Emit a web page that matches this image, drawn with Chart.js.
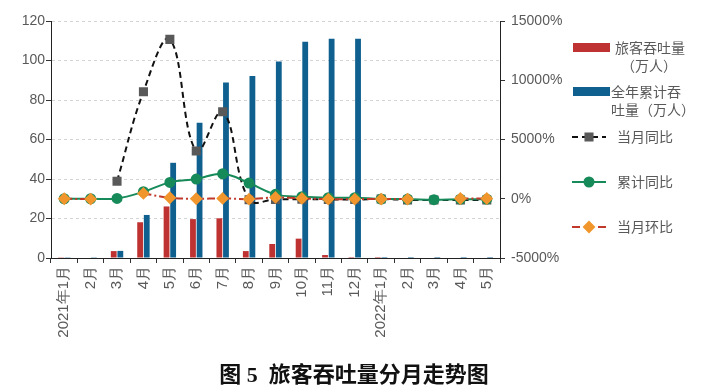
<!DOCTYPE html>
<html lang="zh">
<head>
<meta charset="utf-8">
<title>旅客吞吐量分月走势图</title>
<script src="https://cdn.jsdelivr.net/npm/chart.js"></script>
<style>
    html, body { margin: 0; padding: 0; background: #ffffff; }
    #wrap { width: 708px; height: 392px; }
</style>
</head>
<body>
<div id="wrap"><canvas id="chart" width="708" height="392"></canvas></div>
<script>
// 数据
const months = ['2021年1月', '2月', '3月', '4月', '5月', '6月', '7月', '8月', '9月', '10月', '11月', '12月',
                '2022年1月', '2月', '3月', '4月', '5月'];
const passengers = [0.4, 0, 3.5, 18.1, 26.1, 19.7, 20.1, 3.5, 7.1, 9.8, 1.5, 0.5, 0.5, 0, 0, 0, 0];      // 万人
const cumulative = [0.4, 0.4, 3.6, 21.8, 48.2, 68.5, 88.8, 92.2, 99.5, 109.5, 111, 111, 0.5, 0.5, 0.5, 0.5, 0.5];
const yoy = [null, null, 1470, 9030, 13450, 4025, 7340, -80, -50, -40, -60, -70, -20, -100, -100, -100, -100]; // %
const cumYoy = [0, 0, 30, 590, 1380, 1660, 2110, 1325, 370, 170, 85, 85, -20, -30, -80, -40, -40];
const mom = [0, -30, null, 450, 85, 0, 30, -30, 110, 30, -30, -30, -30, -30, null, 20, 20];
const leftTicks = [0, 120, 20];
const rightTicks = [-5000, 15000, 5000];

const tickFont = { size: 14, family: "'Liberation Sans', Arial, sans-serif" };
const gray = '#595959';

// 右侧图例
const legendRows = [
    { ds: 3, y: 48, lines: ['旅客吞吐量', '（万人）'], tx: [615, 621] },
    { ds: 4, y: 92, lines: ['全年累计吞', '吐量（万人）'], tx: [611, 611] },
    { ds: 2, y: 137, lines: ['当月同比'], tx: [617] },
    { ds: 1, y: 182, lines: ['累计同比'], tx: [617] },
    { ds: 0, y: 227, lines: ['当月环比'], tx: [617] }
];

const sideLegend = {
    id: 'sideLegend',
    afterDraw(chart) {
        const ctx = chart.ctx;
        const x0 = 573;
        ctx.save();
        ctx.font = '14px "Noto Sans CJK SC", sans-serif';
        ctx.textBaseline = 'middle';
        legendRows.forEach(row => {
            const ds = chart.data.datasets[row.ds];
            if (ds.type === 'line') {
                ctx.save();
                ctx.strokeStyle = ds.borderColor;
                ctx.lineWidth = 2;
                ctx.setLineDash(ds.legendDash || ds.borderDash || []);
                ctx.beginPath();
                ctx.moveTo(x0 - 1, row.y);
                ctx.lineTo(x0 + 33, row.y);
                ctx.stroke();
                ctx.setLineDash([]);
                ctx.fillStyle = ds.pointBackgroundColor;
                ctx.strokeStyle = ds.pointBorderColor;
                Chart.helpers.drawPoint(ctx, {
                    pointStyle: ds.pointStyle, radius: ds.pointRadius, rotation: 0, borderWidth: 1
                }, x0 + 16, row.y);
                ctx.restore();
            } else {
                ctx.fillStyle = ds.backgroundColor;
                ctx.fillRect(x0, row.y - 5, 37, 9);
            }
            ctx.fillStyle = gray;
            row.lines.forEach((t, i) => ctx.fillText(t, row.tx[i], row.y + i * 18));
        });
        ctx.restore();
    }
};

const ctx = document.getElementById('chart').getContext('2d');
const chart = new Chart(ctx, {
    type: 'bar',
    data: {
        labels: months,
        datasets: [
            {
                type: 'line', label: '当月环比', data: mom, yAxisID: 'y1', order: 0,
                borderColor: '#c0392b', borderWidth: 2, borderDash: [8, 3, 2, 3], legendDash: [8, 5],
                pointStyle: 'rectRot', pointRadius: 5,
                pointBackgroundColor: '#f0962d', pointBorderColor: '#f0962d',
                tension: 0.4, spanGaps: false
            },
            {
                type: 'line', label: '累计同比', data: cumYoy, yAxisID: 'y1', order: 1,
                borderColor: '#178a5a', borderWidth: 2,
                pointStyle: 'circle', pointRadius: 4.5,
                pointBackgroundColor: '#178a5a', pointBorderColor: '#178a5a',
                tension: 0.4
            },
            {
                type: 'line', label: '当月同比', data: yoy, yAxisID: 'y1', order: 2,
                borderColor: '#111111', borderWidth: 2, borderDash: [6, 4],
                pointStyle: 'rect', pointRadius: 5,
                pointBackgroundColor: '#595959', pointBorderColor: '#595959',
                tension: 0.4
            },
            {
                label: '旅客吞吐量（万人）', data: passengers, yAxisID: 'y', order: 3,
                backgroundColor: '#be3232',
                categoryPercentage: 0.5, barPercentage: 0.88
            },
            {
                label: '全年累计吞吐量（万人）', data: cumulative, yAxisID: 'y', order: 4,
                backgroundColor: '#0f5f8f',
                categoryPercentage: 0.5, barPercentage: 0.88
            }
        ]
    },
    options: {
        responsive: false,
        animation: false,
        layout: { padding: { top: 21, right: 0, bottom: 0, left: 0 } },
        plugins: {
            legend: { display: false },
            tooltip: { enabled: false },
            title: {
                display: true,
                position: 'bottom',
                text: '图 5  旅客吞吐量分月走势图',
                color: '#111111',
                font: { size: 22, weight: 'bold', family: "'Liberation Serif', 'Noto Sans CJK SC', serif" },
                padding: { top: 8, bottom: 2 }
            }
        },
        scales: {
            x: {
                offset: true,
                grid: { drawOnChartArea: false, offset: true, tickLength: 5, tickColor: '#333333' },
                border: { color: '#222222' },
                ticks: {
                    autoSkip: false, minRotation: 90, maxRotation: 90,
                    color: gray, font: { size: 15, family: tickFont.family }, padding: 3
                },
                afterFit: s => { s.height = 97.6; }
            },
            y: {
                position: 'left',
                min: leftTicks[0], max: leftTicks[1],
                grid: { color: '#d4d4d4', tickColor: '#333333', tickLength: 5 },
                border: { color: '#222222', dash: [3, 3] },
                ticks: { stepSize: leftTicks[2], color: gray, font: tickFont, padding: 1 },
                afterFit: s => { s.width = 51; }
            },
            y1: {
                position: 'right',
                min: rightTicks[0], max: rightTicks[1],
                grid: { drawOnChartArea: false, tickColor: '#333333', tickLength: 5 },
                border: { color: '#222222' },
                ticks: {
                    stepSize: rightTicks[2], color: gray, font: tickFont, padding: 6,
                    callback: v => v + '%'
                },
                afterFit: s => { s.width = 208; }
            }
        }
    },
    plugins: [sideLegend]
});
</script>
</body>
</html>
